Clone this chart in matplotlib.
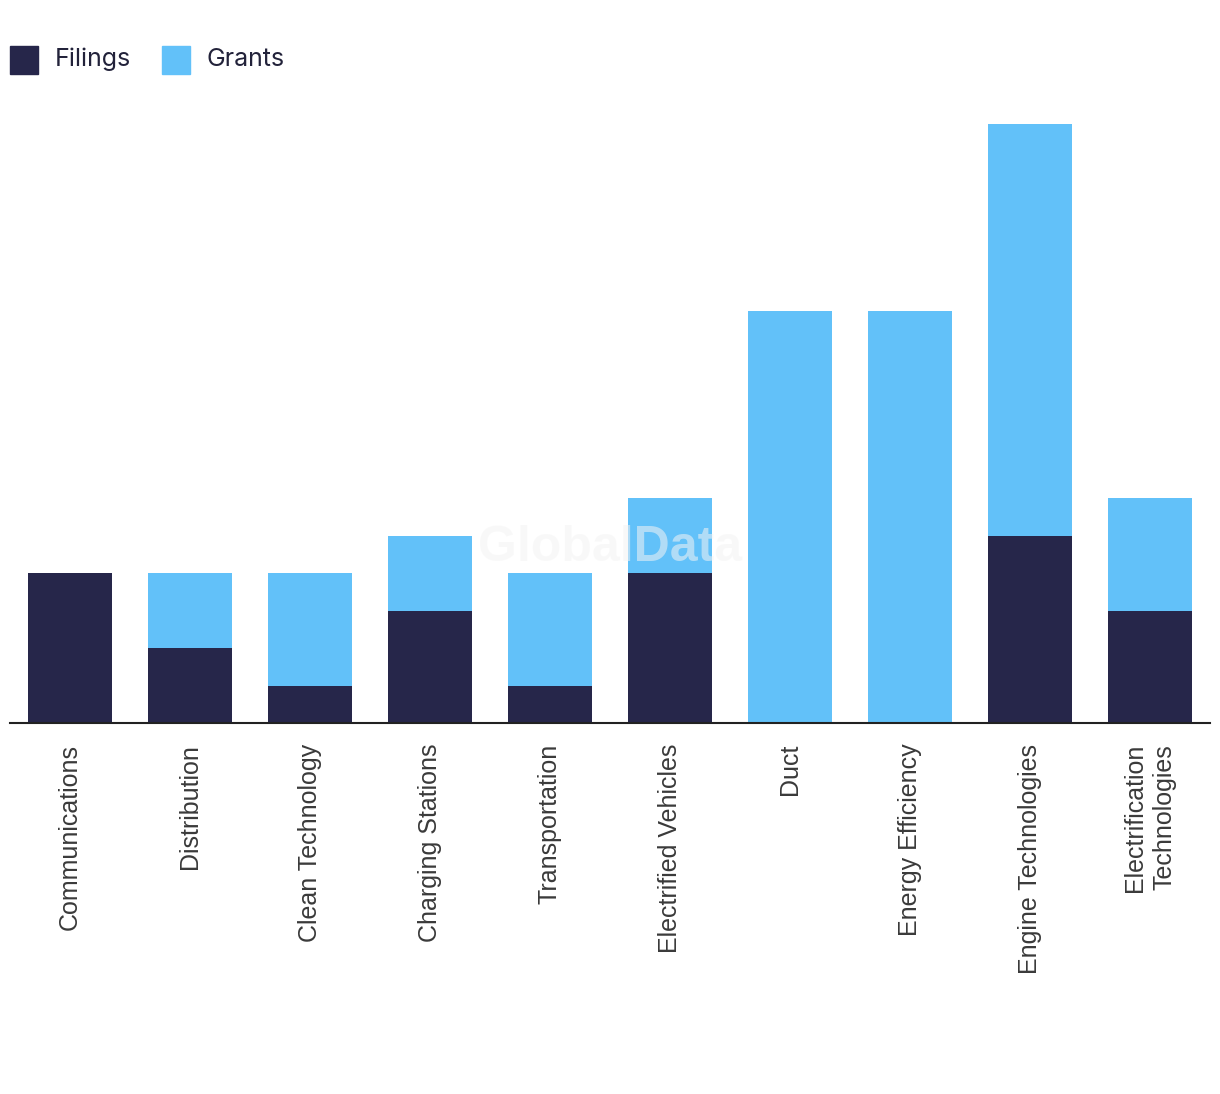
import matplotlib
matplotlib.use("Agg")
import matplotlib.pyplot as plt
from matplotlib.patches import Rectangle

categories = ["Communications", "Distribution", "Clean Technology", "Charging Stations",
              "Transportation", "Electrified Vehicles", "Duct", "Energy Efficiency",
              "Engine Technologies", "Electrification\nTechnologies"]
filings = [4, 2, 1, 3, 1, 4, 0, 0, 5, 3]
grants = [0, 2, 3, 2, 3, 2, 11, 11, 11, 3]

dark = "#26264a"
light = "#62c1f9"

fig = plt.figure(figsize=(12.2, 10.94), dpi=100)
ax = fig.add_axes([10/1220, 371/1094, 1200/1220, 623/1094])
x = list(range(len(categories)))
ax.bar(x, filings, width=0.7, color=dark, label="Filings", zorder=2)
ax.bar(x, grants, width=0.7, bottom=filings, color=light, label="Grants", zorder=2)
ax.set_xlim(-0.5, len(categories) - 0.5)
ax.set_ylim(0, 16.64)
for s in ["top", "right", "left"]:
    ax.spines[s].set_visible(False)
ax.spines["bottom"].set_color("#222222")
ax.spines["bottom"].set_linewidth(1.5)
ax.set_yticks([])
ax.set_xticks(x)
ax.set_xticklabels(categories, rotation=90, fontsize=18, color="#3a3a3a",
                   family=["Liberation Sans", "DejaVu Sans"], ha="center", va="top",
                   multialignment="right", linespacing=1.3)
ax.tick_params(axis="x", length=0, pad=15)

fig.text(610/1220, 1 - 548/1094, "GlobalData", fontsize=36, fontweight="bold",
         color="#f4f4f4", ha="center", va="center", alpha=0.55, zorder=5,
         family=["Liberation Sans", "DejaVu Sans"])

# legend
items = [("Filings", dark, 10, 55), ("Grants", light, 162, 206)]
for lab, col, px, tx in items:
    fig.patches.append(Rectangle((px/1220, 1 - 74/1094), 28/1220, 28/1094,
                                 transform=fig.transFigure, color=col, figure=fig))
    fig.text(tx/1220, 1 - 59/1094, lab, fontsize=18, color="#22223a",
             ha="left", va="center", family=["Inter", "DejaVu Sans"])

fig.savefig("out.png", dpi=100, facecolor="white")
